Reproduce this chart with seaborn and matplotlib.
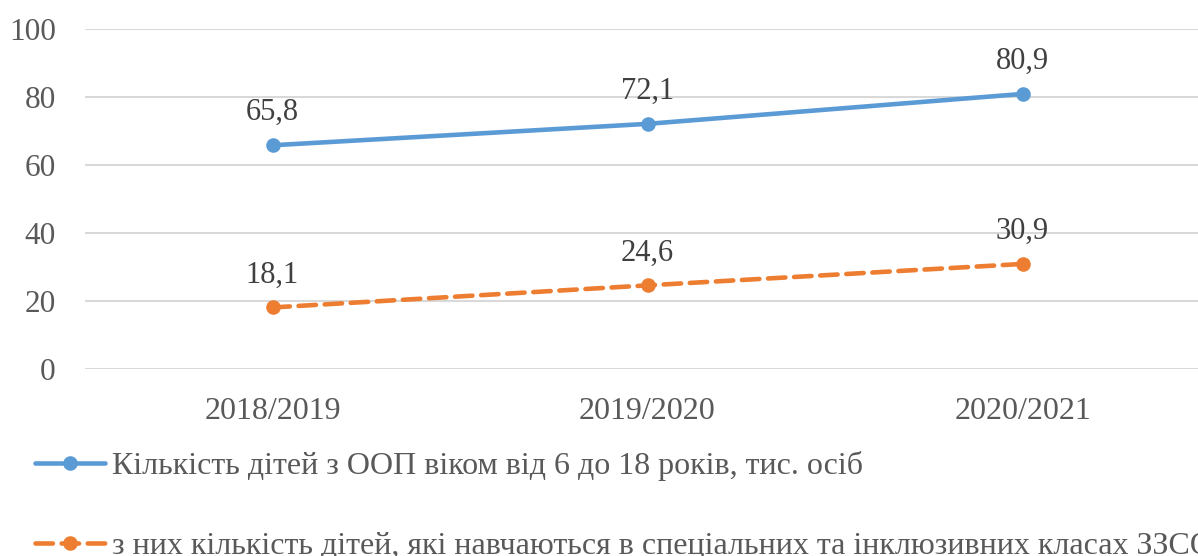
import matplotlib
matplotlib.use("Agg")
import matplotlib.pyplot as plt
import seaborn as sns
import pandas as pd

years = ["2018/2019", "2019/2020", "2020/2021"]
total_children = [65.8, 72.1, 80.9]
inclusive_children = [18.1, 24.6, 30.9]
series_names = [
    "Кількість дітей з ООП віком від 6 до 18 років, тис. осіб",
    "з них кількість дітей, які навчаються в спеціальних та інклюзивних класах ЗЗСО",
]
y_ticks = [0, 20, 40, 60, 80, 100]

sns.set_theme(style="white")
plt.rcParams["font.family"] = ["Liberation Serif", "DejaVu Serif"]

df = pd.DataFrame({
    "year": years * 2,
    "value": total_children + inclusive_children,
    "series": [series_names[0]] * 3 + [series_names[1]] * 3,
})

W, H = 1198, 556
fig = plt.figure(figsize=(W / 100, H / 100), dpi=100)
left, right, top, bottom = 85, 1210, 29, 369
ax = fig.add_axes([left / W, 1 - bottom / H, (right - left) / W, (bottom - top) / H])

blue = "#5B9BD5"
orange = "#ED7D31"
grey = "#595959"

sns.lineplot(data=df, x="year", y="value", hue="series", style="series",
             palette={series_names[0]: blue, series_names[1]: orange},
             dashes={series_names[0]: "", series_names[1]: (3.8, 1.9)},
             markers={series_names[0]: "o", series_names[1]: "o"},
             markersize=10.5, linewidth=3.3, markeredgewidth=0,
             sort=False, ax=ax, legend=False)

for line in ax.get_lines():
    line.set_dash_capstyle("round")
    line.set_solid_capstyle("round")

for vals in (total_children, inclusive_children):
    for i, v in enumerate(vals):
        ax.annotate(f"{v:.1f}".replace(".", ","), (i, v), xytext=(0, 18),
                    textcoords="offset points", ha="center", va="baseline",
                    fontsize=22, color="#404040")

ax.set_xlim(-0.5, 2.5)
ax.set_ylim(0, 100)
ax.set_yticks(y_ticks)
ax.set_xlabel("")
ax.set_ylabel("")
ax.grid(axis="y", color="#D9D9D9", linewidth=1.5)
ax.set_axisbelow(True)
for s in ax.spines.values():
    s.set_visible(False)
ax.tick_params(axis="y", length=0, pad=21, labelsize=22.5, labelcolor=grey)
ax.tick_params(axis="x", length=0, pad=20, labelsize=23, labelcolor=grey)

handles = ax.get_lines()[:2]
fig.legend(handles, series_names, loc="upper left",
           bbox_to_anchor=(35 / W, 1 - 451 / H), borderaxespad=0, borderpad=0,
           frameon=False, fontsize=23, labelcolor=grey, handlelength=2.2,
           handletextpad=0.22, labelspacing=1.6)

fig.savefig("out.png", dpi=100)
